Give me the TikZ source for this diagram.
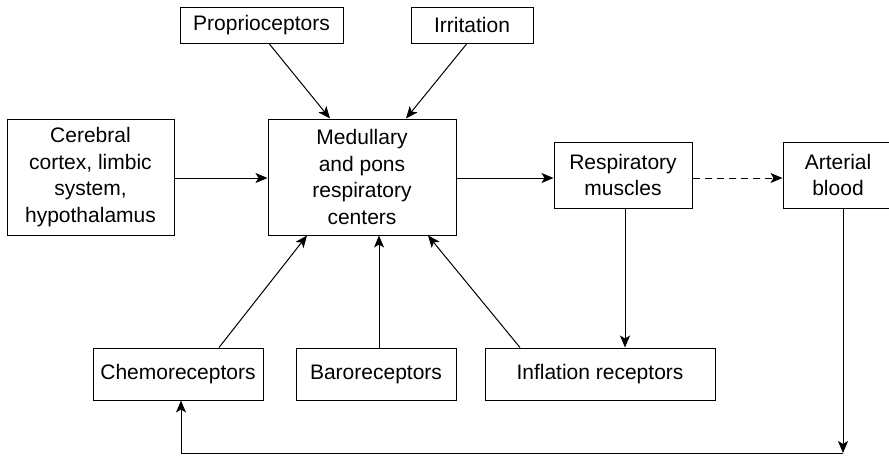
\documentclass[tikz,border=0pt]{standalone}
\usepackage{fontspec}
\setmainfont{Liberation Sans}
\usetikzlibrary{arrows.meta}
\begin{document}
\begin{tikzpicture}[x=1pt,y=1pt,
  box/.style={draw, line width=1pt, align=center, inner sep=0pt, font=\fontsize{21}{26.5}\selectfont},
  conn/.style={line width=1pt, -{Stealth[length=12pt,width=10pt,inset=3pt]}}]
\useasboundingbox (0,0) rectangle (889,-456);
\clip (0,0) rectangle (889,-456);
\node[box, minimum width=163pt, minimum height=36pt] (prop) at (261.5,-25) {Proprioceptors};
\node[box, minimum width=122pt, minimum height=36pt] (irr) at (472,-25) {Irritation};
\node[box, minimum width=167pt, minimum height=116pt] (cer) at (90.5,-177) {Cerebral\\cortex, limbic\\system,\\hypothalamus};
\node[box, minimum width=188pt, minimum height=116pt] (med) at (362,-177) {Medullary\\and pons\\respiratory\\centers};
\node[box, minimum width=138pt, minimum height=66pt] (resp) at (623,-175) {Respiratory\\muscles};
\node[box, minimum width=110pt, minimum height=66pt] (art) at (838,-175) {Arterial\\blood};
\node[box, minimum width=170pt, minimum height=52pt] (chemo) at (178,-374) {Chemoreceptors};
\node[box, minimum width=160pt, minimum height=52pt] (baro) at (376,-374) {Baroreceptors};
\node[box, minimum width=230pt, minimum height=52pt] (infl) at (600,-374) {Inflation receptors};

\coordinate (m1) at ([yshift=-1pt]med.east);
\draw[conn] ([xshift=7.5pt]prop.south) -- ([xshift=-32pt]med.north);
\draw[conn] ([xshift=-5pt]irr.south) -- ([xshift=44pt]med.north);
\draw[conn] ([yshift=-1pt]cer.east) -- ([yshift=-1pt]med.west);
\draw[conn] (m1) -- (resp.west |- m1);
\draw[conn, dashed, dash pattern=on 7pt off 5pt] ([yshift=-3pt]resp.east) -- ([yshift=-3pt]art.west);
\draw[conn] ([xshift=2pt]resp.south) -- ([xshift=2pt]resp.south |- infl.north);
\draw[conn] ([xshift=41pt]chemo.north) -- ([xshift=-55pt]med.south);
\draw[conn] ([xshift=3pt]baro.north) -- ([xshift=3pt]baro.north |- med.south);
\draw[conn] ([xshift=-80pt]infl.north) -- ([xshift=66pt]med.south);
\coordinate (corner) at (843,-453);
\draw[conn] ([xshift=5pt]art.south) -- (corner);
\draw[conn] (corner) -| ([xshift=3pt]chemo.south);
\end{tikzpicture}
\end{document}
